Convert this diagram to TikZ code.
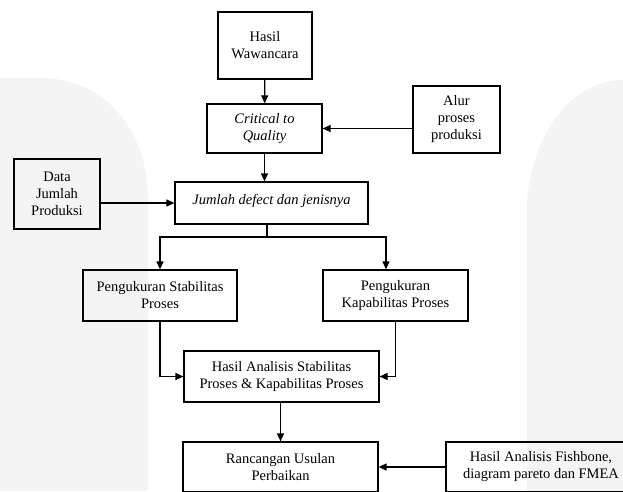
\documentclass[tikz,border=0pt]{standalone}
\usepackage{fontspec}
\setmainfont{Liberation Serif}
\usetikzlibrary{arrows.meta, positioning}
\definecolor{wmgray}{HTML}{F4F4F4}

\begin{document}
\begin{tikzpicture}[
  x=1pt, y=-1pt,
  every node/.style={font=\fontsize{14.5}{17}\selectfont},
  box/.style={rectangle, draw, line width=1.2pt, align=center, inner sep=2pt},
  arr/.style={-{Triangle[length=8pt, width=7pt]}, line width=1.2pt},
]

\useasboundingbox (0,0) rectangle (623,491);
\clip (0,0) rectangle (623,491);

% Watermark
\fill[wmgray] (0,491) -- (0,78) -- (40,78)
  .. controls (105,78) and (148,130) .. (148,200) -- (148,491) -- cycle;
\fill[wmgray] (623,491) -- (527,491) -- (527,200)
  .. controls (535,120) and (580,80) .. (623,80) -- cycle;

% Input
\node[box, minimum width=94pt, minimum height=67pt] (wawancara) at (265,45.5) {Hasil\\Wawancara};
\node[box, minimum width=115pt, minimum height=49pt, font=\fontsize{14.5}{17}\selectfont\itshape] (ctq) at (264.5,128.5) {Critical to\\Quality};
\node[box, minimum width=87pt, minimum height=67pt] (alur) at (456.5,119.5) {Alur\\proses\\produksi};
\node[box, minimum width=86pt, minimum height=70pt] (data) at (57,194) {Data\\Jumlah\\Produksi};
\node[box, minimum width=193pt, minimum height=42pt, text depth=8pt, font=\fontsize{14.5}{17}\selectfont\itshape] (jumlah) at (271.5,203) {Jumlah defect dan jenisnya};

% Pengukuran
\node[box, minimum width=154pt, minimum height=51pt] (stabil) at (160,295.5) {Pengukuran Stabilitas\\Proses};
\node[box, minimum width=145pt, minimum height=51pt] (kapabil) at (395.5,295.5) {Pengukuran\\Kapabilitas Proses};
\node[box, minimum width=195pt, minimum height=51pt] (hasil) at (281.5,376.5) {Hasil Analisis Stabilitas\\Proses \& Kapabilitas Proses};

% Perbaikan
\node[box, minimum width=195pt, minimum height=50pt] (rancangan) at (280.5,467) {Rancangan Usulan\\Perbaikan};
\node[box, minimum width=190pt, minimum height=50pt] (fishbone) at (541,467) {Hasil Analisis Fishbone,\\diagram pareto dan FMEA};

% Connectors
\draw[arr] (wawancara) -- (ctq);
\draw[arr] (alur.west |- ctq.east) -- (ctq.east);
\draw[arr] (ctq) -- (ctq |- jumlah.north);
\draw[arr] (data.east |- jumlah.west) -- (jumlah.west);

\coordinate (split) at (267,237);
\draw[line width=1.2pt] (jumlah.south -| split) -- (split);
\draw[arr] (split) -| (stabil.north);
\draw[arr] (split) -| ([xshift=-9.5pt]kapabil.north);

\draw[arr] (stabil.south) |- (hasil.west);
\draw[arr] (kapabil.south) |- (hasil.east);
\draw[arr] (hasil.south -| rancangan) -- (rancangan.north);
\draw[arr] (fishbone.west) -- (rancangan.east);

\end{tikzpicture}
\end{document}
